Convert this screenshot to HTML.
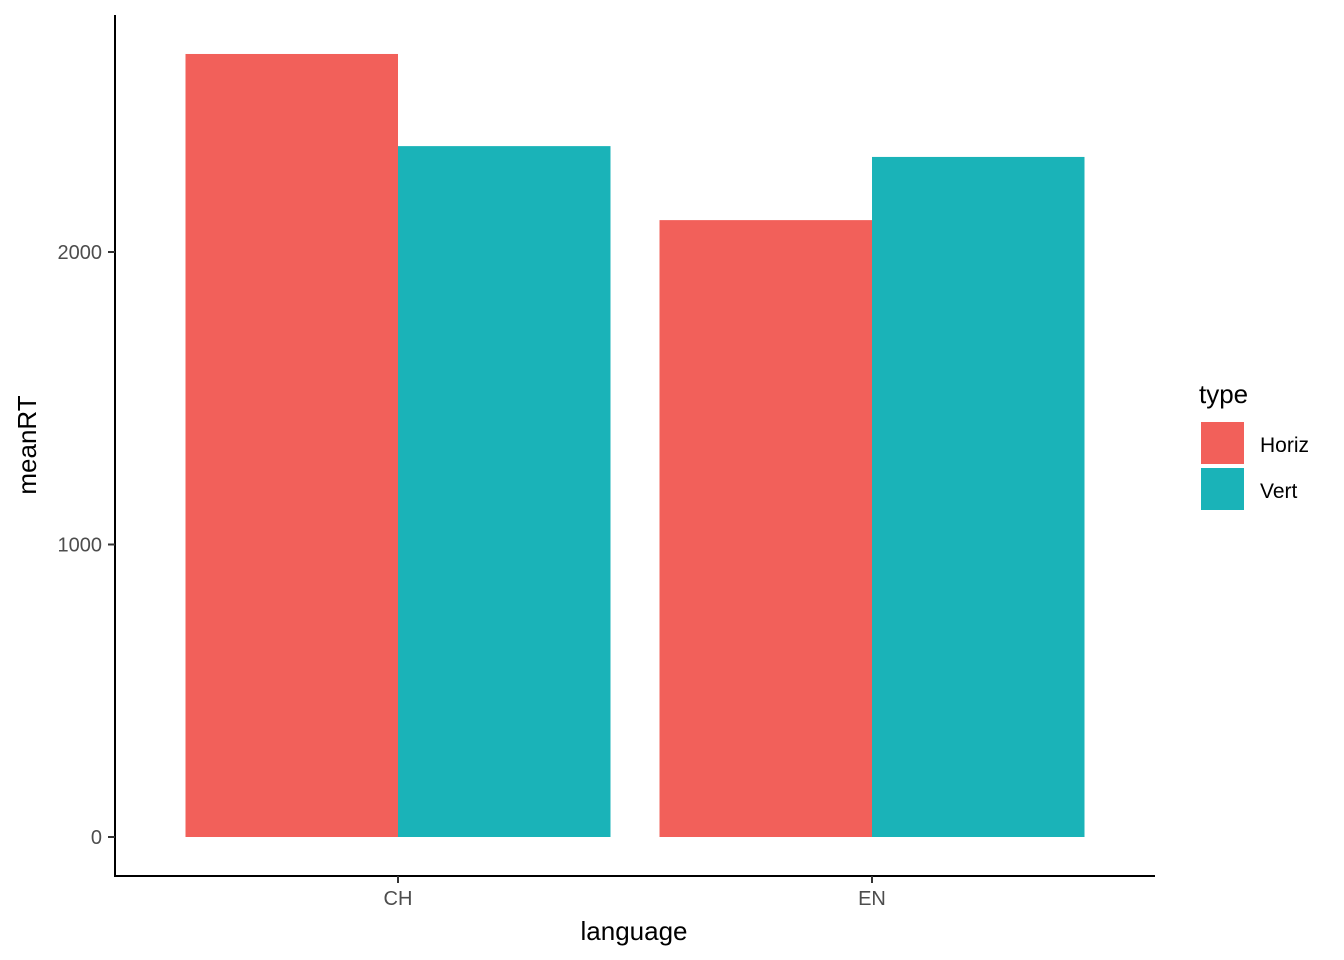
<!DOCTYPE html>
<html><head><meta charset="utf-8"><style>
body{margin:0;background:#fff}
svg{display:block;font-family:"Liberation Sans",Arial,sans-serif}
</style></head><body>
<svg id="chart" width="1344" height="960">
<g id="bars"></g>
<g id="axes"></g>
<text x="634" y="940" font-size="26" text-anchor="middle" fill="#000">language</text>
<text transform="translate(36,445) rotate(-90)" font-size="26" text-anchor="middle" fill="#000">meanRT</text>
<g>
<text x="1199" y="403" font-size="26" fill="#000">type</text>
<g>
<rect x="1201" y="422" width="43" height="42" fill="#F2605A"/>
<text x="1260" y="452" font-size="21" fill="#000">Horiz</text></g>
<g>
<rect x="1201" y="468" width="43" height="42" fill="#1AB3B8"/>
<text x="1260" y="498" font-size="21" fill="#000">Vert</text></g>
</g>
</svg>
<script>
const categories = ["CH","EN"];
const seriesNames = ["Horiz","Vert"];
const horizValues = [2677, 2109];
const vertValues = [2362, 2325];
const yTicks = [0, 1000, 2000];
const colors = ["#F2605A","#1AB3B8"];

const NS="http://www.w3.org/2000/svg";
const y0=837, pxPer=0.2925;
const yScale=v=>y0-v*pxPer;
const xCenter=i=>398+i*474;
const groupW=425;
const barsG=document.getElementById('bars');
const axesG=document.getElementById('axes');
function mk(tag,attrs,parent){const e=document.createElementNS(NS,tag);for(const k in attrs)e.setAttribute(k,attrs[k]);parent.appendChild(e);return e;}
const series=[horizValues,vertValues];
categories.forEach((c,i)=>{
  series.forEach((vals,s)=>{
    const x=xCenter(i)-groupW/2+s*groupW/2;
    const r=mk('rect',{x:x,y:yScale(vals[i]),width:groupW/2,height:y0-yScale(vals[i]),fill:colors[s]},barsG);
    
    
  });
});
const yl=mk('line',{x1:115,y1:15,x2:115,y2:876,stroke:'#000','stroke-width':2},axesG);


const xl=mk('line',{x1:114,y1:876,x2:1155,y2:876,stroke:'#000','stroke-width':2},axesG);


yTicks.forEach(t=>{
  const y=yScale(t);
  const tk=mk('line',{x1:108,y1:y,x2:115,y2:y,stroke:'#333','stroke-width':2},axesG);
  
  
  const tx=mk('text',{x:102,y:y+7,'font-size':20,'text-anchor':'end',fill:'#4d4d4d'},axesG);
  tx.textContent=t;
  
  
});
categories.forEach((c,i)=>{
  const x=xCenter(i);
  const tk=mk('line',{x1:x,y1:876,x2:x,y2:883,stroke:'#333','stroke-width':2},axesG);
  
  
  const tx=mk('text',{x:x,y:905,'font-size':20,'text-anchor':'middle',fill:'#4d4d4d'},axesG);
  tx.textContent=c;
  
  
});
</script>
</body></html>
